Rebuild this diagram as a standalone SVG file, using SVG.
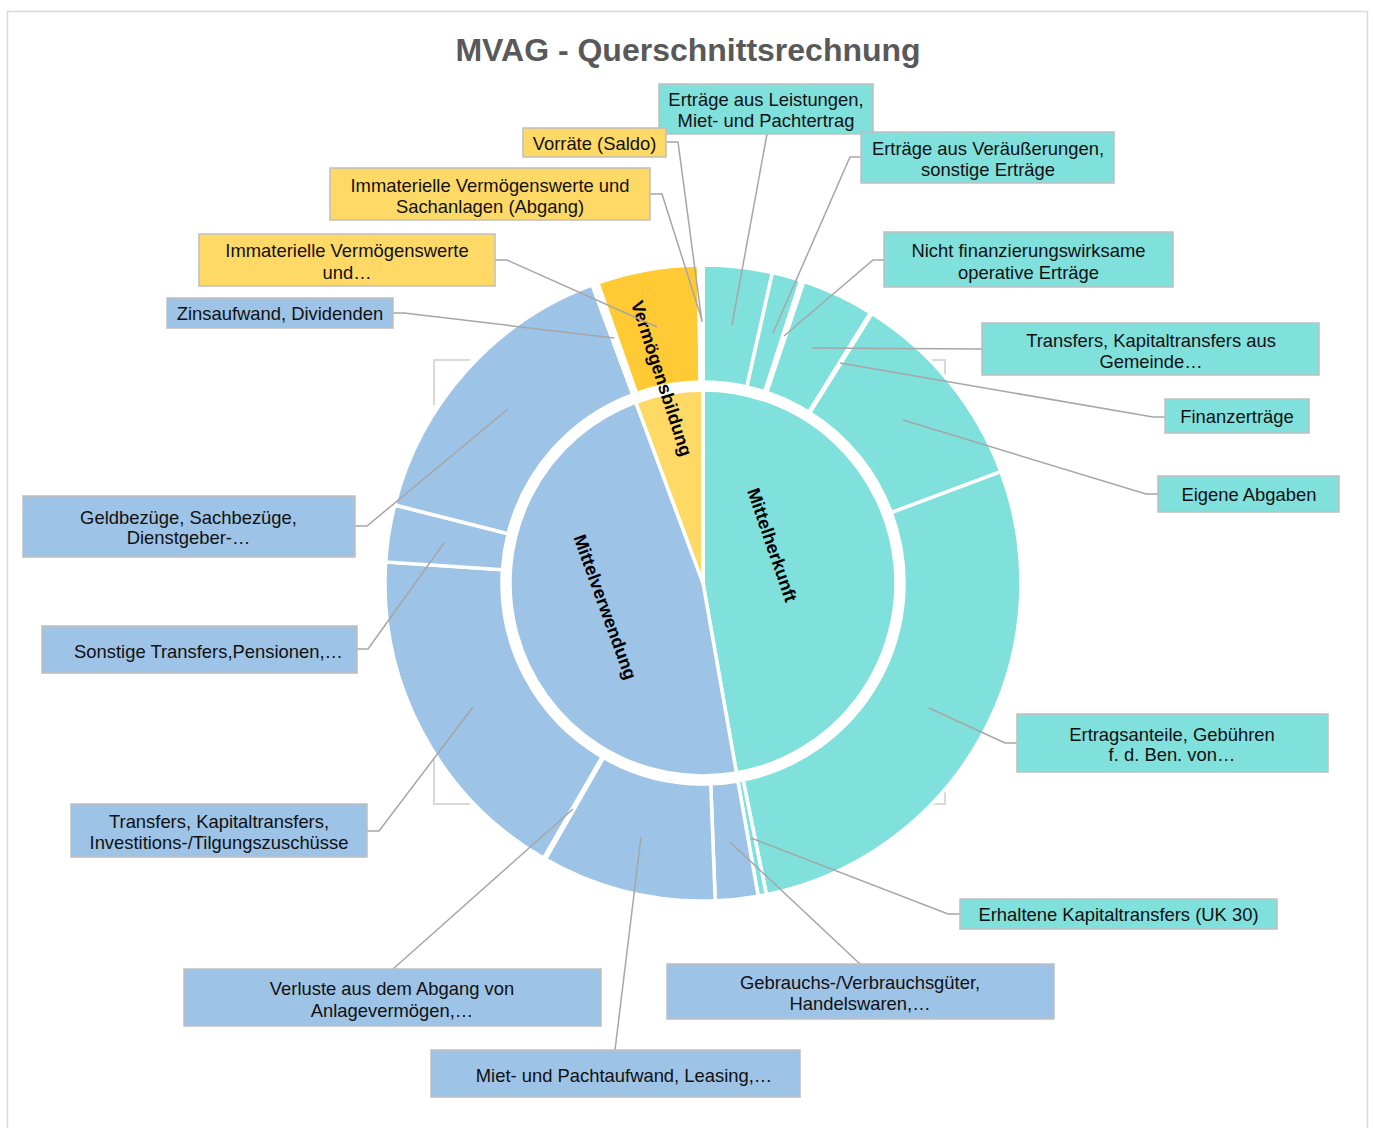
<svg xmlns="http://www.w3.org/2000/svg" width="1374" height="1128" viewBox="0 0 1374 1128">
<style>
text{font-family:"Liberation Sans",Arial,sans-serif;}
.lbl{font-size:18.4px;fill:#111;text-anchor:middle;}
.seglbl{font-size:18px;font-weight:bold;fill:#000;text-anchor:middle;dominant-baseline:central;}
.title{font-size:32px;font-weight:bold;fill:#595959;text-anchor:middle;}
.seg{stroke:#fff;stroke-width:3.5;stroke-linejoin:miter;}
.teal{fill:#80E0DC;}
.blue{fill:#9DC3E6;}
.ylw{fill:#FFD966;}
.ylw2{fill:#FFCA33;}
.gap{fill:#fff;}
.box{stroke:#BFBFBF;stroke-width:1.5;}
.lead{fill:none;stroke:#A6A6A6;stroke-width:1.5;}
.brk{fill:none;stroke:#D9D9D9;stroke-width:2;}
</style>
<rect x="7.5" y="11.5" width="1360" height="1130" fill="#fff" stroke="#D9D9D9" stroke-width="1.5"/>
<text class="title" x="688" y="61">MVAG - Querschnittsrechnung</text>
<g id="plot-corners">
<path class="brk" d="M470,360 H434 V405"/>
<path class="brk" d="M909,360 H945 V405"/>
<path class="brk" d="M434,760 V804 H470"/>
<path class="brk" d="M945,760 V804 H909"/>
</g>
<g id="inner-ring">
<g id="seg-mittelherkunft"><path class="seg teal" d="M703,583 L703,390 A193,193 0 0 1 736.51,773.07 Z"/></g>
<g id="seg-mittelverwendung"><path class="seg blue" d="M703,583 L736.51,773.07 A193,193 0 0 1 635.73,402.10 Z"/></g>
<g id="seg-vermoegensbildung"><path class="seg ylw" d="M703,583 L635.73,402.10 A193,193 0 0 1 703,390 Z"/></g>
</g>
<g id="outer-ring">
<g id="seg-e1"><path class="seg teal" d="M703,265 A318,318 0 0 1 772.37,272.66 L746.85,386.84 A201,201 0 0 0 703,382 Z"/></g>
<g id="seg-e2"><path class="seg teal" d="M772.37,272.66 A318,318 0 0 1 800.74,280.39 L764.78,391.73 A201,201 0 0 0 746.85,386.84 Z"/></g>
<g id="seg-e3"><path class="seg teal" d="M800.74,280.39 A318,318 0 0 1 803.90,281.43 L766.78,392.39 A201,201 0 0 0 764.78,391.73 Z"/></g>
<g id="seg-e4"><path class="seg teal" d="M803.90,281.43 A318,318 0 0 1 870.57,312.73 L808.92,412.17 A201,201 0 0 0 766.78,392.39 Z"/></g>
<g id="seg-e5"><path class="seg teal" d="M870.57,312.73 A318,318 0 0 1 871.99,313.62 L809.81,412.73 A201,201 0 0 0 808.92,412.17 Z"/></g>
<g id="seg-e6"><path class="seg teal" d="M871.99,313.62 A318,318 0 0 1 1000.87,471.63 L891.28,512.61 A201,201 0 0 0 809.81,412.73 Z"/></g>
<g id="seg-e7"><path class="seg teal" d="M1000.87,471.63 A318,318 0 0 1 766.40,894.61 L743.07,779.96 A201,201 0 0 0 891.28,512.61 Z"/></g>
<g id="seg-e8"><path class="seg teal" d="M766.40,894.61 A318,318 0 0 1 758.22,896.17 L737.90,780.95 A201,201 0 0 0 743.07,779.96 Z"/></g>
<g id="seg-v1"><path class="seg blue" d="M758.22,896.17 A318,318 0 0 1 715.21,900.76 L710.72,783.85 A201,201 0 0 0 737.90,780.95 Z"/></g>
<g id="seg-v2"><path class="seg blue" d="M715.21,900.76 A318,318 0 0 1 545.44,859.22 L603.41,757.59 A201,201 0 0 0 710.72,783.85 Z"/></g>
<g id="seg-v3"><path class="seg blue" d="M545.44,859.22 A318,318 0 0 1 543.52,858.12 L602.20,756.90 A201,201 0 0 0 603.41,757.59 Z"/></g>
<g id="seg-v4"><path class="seg blue" d="M543.52,858.12 A318,318 0 0 1 385.70,561.93 L502.44,569.68 A201,201 0 0 0 602.20,756.90 Z"/></g>
<g id="seg-v5"><path class="seg blue" d="M385.70,561.93 A318,318 0 0 1 394.71,504.99 L508.14,533.69 A201,201 0 0 0 502.44,569.68 Z"/></g>
<g id="seg-v6"><path class="seg blue" d="M394.71,504.99 A318,318 0 0 1 592.15,284.94 L632.94,394.61 A201,201 0 0 0 508.14,533.69 Z"/></g>
<g id="seg-v7"><path class="seg gap" d="M592.15,284.94 A318,318 0 0 1 597.89,282.85 L636.56,393.28 A201,201 0 0 0 632.94,394.61 Z"/></g>
<g id="seg-g1"><path class="seg ylw2" d="M597.89,282.85 A318,318 0 0 1 698.56,265.03 L700.19,382.02 A201,201 0 0 0 636.56,393.28 Z"/></g>
<g id="seg-g2"><path class="seg gap" d="M698.56,265.03 A318,318 0 0 1 700.78,265 L701.60,382 A201,201 0 0 0 700.19,382.02 Z"/></g>
<g id="seg-g3"><path class="seg gap" d="M700.78,265 A318,318 0 0 1 703,265 L703,382 A201,201 0 0 0 701.60,382 Z"/></g>
</g>
<g id="segment-labels">
<text class="seglbl" transform="translate(772,545) rotate(71)">Mittelherkunft</text>
<text class="seglbl" transform="translate(605,607) rotate(70)">Mittelverwendung</text>
<text class="seglbl" transform="translate(661.5,378.5) rotate(72)">Vermögensbildung</text>
</g>
<g id="connectors">
<path class="lead" d="M666,142 H678 L702,322"/>
<path class="lead" d="M650,194 H662 L702,320"/>
<path class="lead" d="M495,260 H507 L657,327"/>
<path class="lead" d="M393,313 H404 L614,338"/>
<path class="lead" d="M767,134 L732,325"/>
<path class="lead" d="M861,157 H850 L773,333"/>
<path class="lead" d="M884,260 H873 L784,336"/>
<path class="lead" d="M982,349 L812,348"/>
<path class="lead" d="M1165,417 H1153 L840,363"/>
<path class="lead" d="M1158,494 H1146 L903,420"/>
<path class="lead" d="M1017,743 H1005 L929,708"/>
<path class="lead" d="M960,914 H948 L751,838"/>
<path class="lead" d="M860,964 L730,842"/>
<path class="lead" d="M615,1050 L641,837"/>
<path class="lead" d="M393,969 L573,809"/>
<path class="lead" d="M367,831 H379 L473,707"/>
<path class="lead" d="M357,649 H368 L444,543"/>
<path class="lead" d="M355,526 H367 L508,409"/>
</g>
<g id="labels">
<g id="lbl-e1"><rect class="box teal" x="659" y="84" width="214" height="50"/><text class="lbl" x="766" y="106">Erträge aus Leistungen,<tspan x="766" dy="20.5">Miet- und Pachtertrag</tspan></text></g>
<g id="lbl-g3"><rect class="box ylw" x="523" y="128" width="143" height="29"/><text class="lbl" x="594.5" y="149.5">Vorräte (Saldo)</text></g>
<g id="lbl-g2"><rect class="box ylw" x="330" y="168" width="320" height="52"/><text class="lbl" x="490" y="191.5">Immaterielle Vermögenswerte und<tspan x="490" dy="21">Sachanlagen (Abgang)</tspan></text></g>
<g id="lbl-g1"><rect class="box ylw" x="199" y="234" width="296" height="52"/><text class="lbl" x="347" y="257">Immaterielle Vermögenswerte<tspan x="347" dy="21.5">und…</tspan></text></g>
<g id="lbl-v7"><rect class="box blue" x="167" y="298" width="226" height="30"/><text class="lbl" x="280" y="319.5">Zinsaufwand, Dividenden</text></g>
<g id="lbl-e2"><rect class="box teal" x="861" y="132" width="253" height="51"/><text class="lbl" x="988" y="154.5">Erträge aus Veräußerungen,<tspan x="988" dy="21">sonstige Erträge</tspan></text></g>
<g id="lbl-e3"><rect class="box teal" x="884" y="232" width="289" height="55"/><text class="lbl" x="1028.5" y="256.5">Nicht finanzierungswirksame<tspan x="1028.5" dy="22">operative Erträge</tspan></text></g>
<g id="lbl-e4"><rect class="box teal" x="982" y="323" width="337" height="52"/><text class="lbl" x="1151" y="346.5">Transfers, Kapitaltransfers aus<tspan x="1151" dy="21">Gemeinde…</tspan></text></g>
<g id="lbl-e5"><rect class="box teal" x="1165" y="399" width="144" height="34"/><text class="lbl" x="1237" y="423">Finanzerträge</text></g>
<g id="lbl-e6"><rect class="box teal" x="1158" y="476" width="181" height="36"/><text class="lbl" x="1249" y="501">Eigene Abgaben</text></g>
<g id="lbl-e7"><rect class="box teal" x="1017" y="714" width="311" height="58"/><text class="lbl" x="1172" y="740.5">Ertragsanteile, Gebühren<tspan x="1172" dy="20.5">f. d. Ben. von…</tspan></text></g>
<g id="lbl-e8"><rect class="box teal" x="960" y="899" width="317" height="30"/><text class="lbl" x="1118.5" y="920.5">Erhaltene Kapitaltransfers (UK 30)</text></g>
<g id="lbl-v1"><rect class="box blue" x="667" y="964" width="387" height="55"/><text class="lbl" x="860" y="988.5">Gebrauchs-/Verbrauchsgüter,<tspan x="860" dy="21">Handelswaren,…</tspan></text></g>
<g id="lbl-v2"><rect class="box blue" x="431" y="1050" width="369" height="47"/><text class="lbl" x="624" y="1081.5">Miet- und Pachtaufwand, Leasing,…</text></g>
<g id="lbl-v3"><rect class="box blue" x="184" y="969" width="417" height="57"/><text class="lbl" x="392" y="994.5">Verluste aus dem Abgang von<tspan x="392" dy="22">Anlagevermögen,…</tspan></text></g>
<g id="lbl-v4"><rect class="box blue" x="71" y="804" width="296" height="53"/><text class="lbl" x="219" y="827.5">Transfers, Kapitaltransfers,<tspan x="219" dy="21">Investitions-/Tilgungszuschüsse</tspan></text></g>
<g id="lbl-v5"><rect class="box blue" x="42" y="626" width="315" height="47"/><text class="lbl" x="208.5" y="657.5">Sonstige Transfers,Pensionen,…</text></g>
<g id="lbl-v6"><rect class="box blue" x="23" y="496" width="332" height="61"/><text class="lbl" x="188.5" y="523.5">Geldbezüge, Sachbezüge,<tspan x="188.5" dy="20.5">Dienstgeber-…</tspan></text></g>
</g>
</svg>
